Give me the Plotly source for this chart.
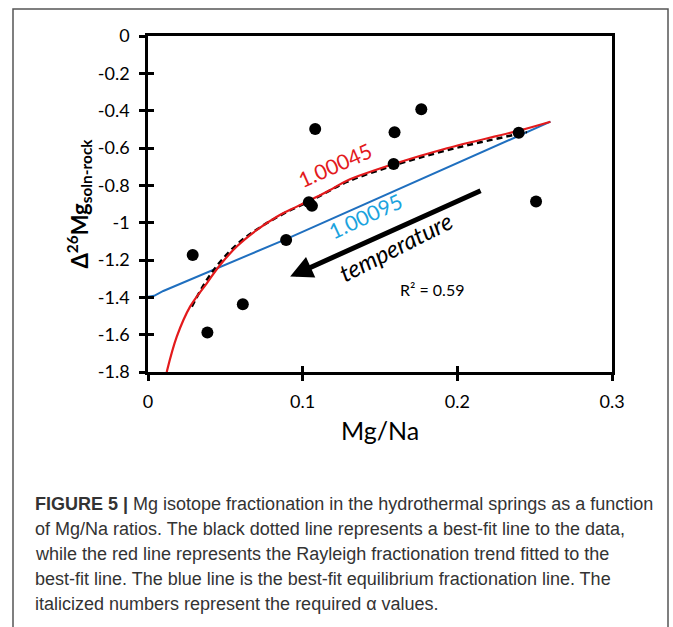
import plotly.graph_objects as go

# ---- data ----
pts_x = [0.0289, 0.0384, 0.0613, 0.0893, 0.104, 0.106, 0.1081, 0.1594, 0.1588, 0.1767, 0.2397, 0.2509]
pts_y = [-1.173, -1.589, -1.437, -1.093, -0.89, -0.91, -0.498, -0.516, -0.686, -0.393, -0.518, -0.887]

fit_x = [0.0283, 0.038, 0.0477, 0.0595, 0.0725, 0.0876, 0.107, 0.1286, 0.1588, 0.1933, 0.2365, 0.245]
fit_y = [-1.45, -1.307, -1.2, -1.102, -1.025, -0.952, -0.875, -0.782, -0.694, -0.612, -0.53, -0.515]

ray_x = [0.0121, 0.0186, 0.0272, 0.038, 0.0466, 0.0574, 0.0704, 0.0833, 0.0962, 0.1092,
         0.1178, 0.1286, 0.1588, 0.1933, 0.2397, 0.2602]
ray_y = [-1.80, -1.611, -1.45, -1.325, -1.227, -1.128, -1.039, -0.968, -0.914, -0.861,
         -0.825, -0.775, -0.686, -0.601, -0.507, -0.459]

eq_x = [0.0, 0.004, 0.0099, 0.0893, 0.2602]
eq_y = [-1.397, -1.392, -1.366, -1.088, -0.459]

x_ticks = [0, 0.1, 0.2, 0.3]
x_ticktext = ["0", "0.1", "0.2", "0.3"]
y_ticks = [0, -0.2, -0.4, -0.6, -0.8, -1.0, -1.2, -1.4, -1.6, -1.8]
y_ticktext = ["0", "-0.2", "-0.4", "-0.6", "-0.8", "-1", "-1.2", "-1.4", "-1.6", "-1.8"]

caption_lines = [
    "<b>FIGURE 5 |</b> Mg isotope fractionation in the hydrothermal springs as a function",
    "of Mg/Na ratios. The black dotted line represents a best-fit line to the data,",
    "while the red line represents the Rayleigh fractionation trend fitted to the",
    "best-fit line. The blue line is the best-fit equilibrium fractionation line. The",
    "italicized numbers represent the required α values.",
]

# ---- layout geometry (pixels) ----
W, H = 673, 627
L, R, T, B = 148, 61, 36, 255
PW, PH = W - L - R, H - T - B


def px_x(px):
    return (px - L) / PW


def px_y(py):
    return (H - B - py) / PH


CHART_FONT = "Lato, Open Sans, sans-serif"
RED = "#E31A1C"
BLUE = "#1F6FBF"
LBLUE = "#1BA3DE"

fig = go.Figure()

fig.add_trace(go.Scatter(x=eq_x, y=eq_y, mode="lines",
                         line=dict(color=BLUE, width=2), showlegend=False, hoverinfo="skip"))
fig.add_trace(go.Scatter(x=fit_x, y=fit_y, mode="lines", line_shape="spline",
                         line=dict(color="black", width=2.5, dash="6px,4px"),
                         showlegend=False, hoverinfo="skip"))
fig.add_trace(go.Scatter(x=ray_x, y=ray_y, mode="lines", line_shape="spline",
                         line=dict(color=RED, width=2.2), showlegend=False, hoverinfo="skip"))
fig.add_trace(go.Scatter(x=pts_x, y=pts_y, mode="markers",
                         marker=dict(color="black", size=12), showlegend=False))
# dummy trace for overlay axes (inside ticks -> crossing tick marks)
fig.add_trace(go.Scatter(x=[None], y=[None], xaxis="x2", yaxis="y2", showlegend=False))

axis_common = dict(showgrid=False, zeroline=False, showline=True, linecolor="black",
                   linewidth=2.5, tickcolor="black", tickwidth=2.5, ticklen=6)

fig.update_layout(
    width=W, height=H,
    margin=dict(l=L, r=R, t=T, b=B),
    paper_bgcolor="white", plot_bgcolor="white",
    font=dict(family=CHART_FONT, color="black"),
    xaxis=dict(range=[0, 0.3], tickvals=x_ticks, ticktext=x_ticktext, ticks="outside",
               mirror=True, tickfont=dict(size=18), ticklabelstandoff=6,
               title=dict(text="Mg/Na", font=dict(size=25), standoff=12), **axis_common),
    yaxis=dict(range=[-1.8, 0], tickvals=y_ticks, ticktext=y_ticktext, ticks="outside",
               mirror=True, tickfont=dict(size=18), ticklabelstandoff=6,
               title=dict(text="<b>Δ<sup>26</sup>Mg<sub>soln-rock</sub></b>",
                          font=dict(size=22), standoff=4), **axis_common),
    xaxis2=dict(range=[0, 0.3], overlaying="x", anchor="y2", tickvals=x_ticks[1:3],
                ticks="inside", showticklabels=False, showgrid=False, zeroline=False,
                showline=False, tickcolor="black", tickwidth=2.5, ticklen=6),
    yaxis2=dict(range=[-1.8, 0], overlaying="y", anchor="x2", tickvals=y_ticks[1:],
                ticks="inside", showticklabels=False, showgrid=False, zeroline=False,
                showline=False, tickcolor="black", tickwidth=2.5, ticklen=6),
)

# annotations in the plot
fig.add_annotation(x=0.121, y=-0.691, text="1.00045", showarrow=False, textangle=-24,
                   font=dict(color=RED, size=21, family=CHART_FONT))
fig.add_annotation(x=0.1405, y=-0.959, text="1.00095", showarrow=False, textangle=-25,
                   font=dict(color=LBLUE, size=21, family=CHART_FONT))
fig.add_annotation(x=0.1599, y=-1.128, text="<i>temperature</i>", showarrow=False, textangle=-27,
                   font=dict(color="black", size=24, family=CHART_FONT))
fig.add_annotation(x=0.1836, y=-1.36, text="R² = 0.59", showarrow=False,
                   font=dict(color="black", size=16, family=CHART_FONT))
fig.add_annotation(x=0.0919, y=-1.289, ax=0.216, ay=-0.825, axref="x", ayref="y",
                   xref="x", yref="y", text="", showarrow=True, arrowhead=2,
                   arrowsize=0.9, arrowwidth=5, arrowcolor="black")

# outer frame
fig.add_shape(type="rect", xref="paper", yref="paper",
              x0=px_x(13), x1=px_x(668), y0=px_y(650), y1=px_y(9),
              line=dict(color="#555555", width=1.5), fillcolor="rgba(0,0,0,0)", layer="below")

# caption
cap_y0 = 504
for i, line in enumerate(caption_lines):
    fig.add_annotation(xref="paper", yref="paper", x=px_x(33), y=px_y(cap_y0 + 25 * i),
                       xanchor="left", yanchor="middle", showarrow=False, text=line, align="left",
                       font=dict(family="Liberation Sans, Arial, sans-serif", size=18, color="#333333"))

fig.write_html("out.html", config={"displayModeBar": False},
               post_script="document.body.style.margin='0';")
